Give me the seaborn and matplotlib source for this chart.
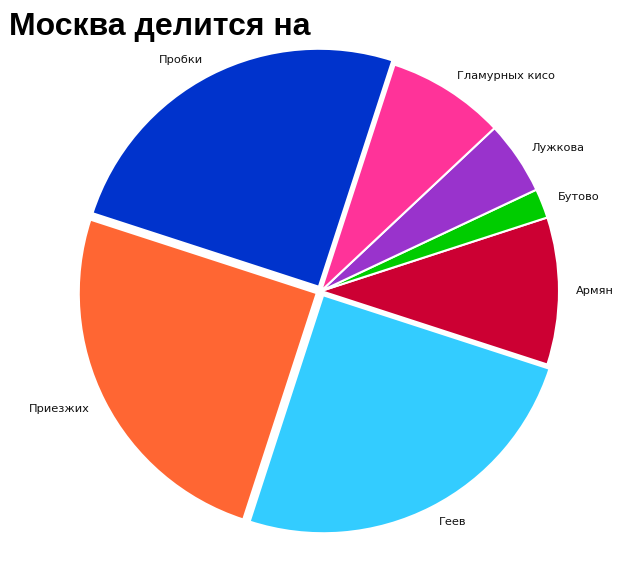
import matplotlib
matplotlib.use("Agg")
import matplotlib.pyplot as plt
import seaborn as sns

# data (percent)
labels = ['Армян', 'Бутово', 'Лужкова', 'Гламурных кисо', 'Пробки', 'Приезжих', 'Геев']
shares = [10, 2, 5, 8, 25, 25, 25]
colors = ['#CC0033', '#00CC00', '#9933CC', '#FF3399', '#0033CC', '#FF6633', '#33CCFF']
explode = [0, 0, 0, 0, 0.02, 0.02, 0.02]

sns.set_theme(style="white")
plt.rcParams['font.family'] = ['DejaVu Sans']

fig = plt.figure(figsize=(6.4, 5.65), dpi=100)
ax = fig.add_axes([83 / 640, 36 / 565, 476 / 640, 476 / 565])

ax.pie(shares, labels=labels, colors=colors, explode=explode,
       startangle=-18, counterclock=True, labeldistance=1.07,
       wedgeprops=dict(edgecolor='white', linewidth=1.5),
       textprops=dict(fontsize=8.2, color='#111111'))
ax.set_xlim(-1, 1)
ax.set_ylim(-1, 1)
ax.set_aspect('equal')
ax.axis('off')

fig.text(0.014, 0.978, 'Москва делится на', ha='left', va='top',
         fontsize=23, fontweight='bold', family='Liberation Sans', color='black')

fig.savefig('out.png', dpi=100, facecolor='white')
